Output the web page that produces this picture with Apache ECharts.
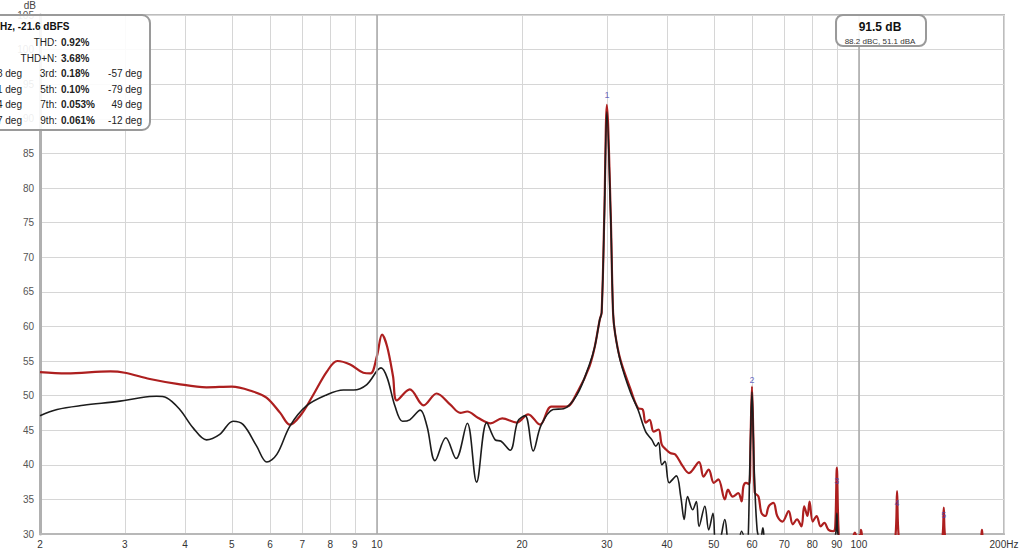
<!DOCTYPE html>
<html>
<head>
<meta charset="utf-8">
<script src="https://cdn.jsdelivr.net/npm/echarts@6/dist/echarts.min.js"></script>
<style>html,body{margin:0;padding:0;background:#fff;}#c{width:1024px;height:552px;}</style>
</head>
<body>
<div id="c"></div>
<script>
// ---- data (frequency in Hz, level in dB) ----
const redFreq = [2, 2.27, 2.8, 3.0, 3.38, 3.85, 4.43, 5.0, 5.53, 5.9, 6.3, 6.6, 6.97, 7.35, 7.88, 8.28, 8.8, 9.37, 9.7, 10.0, 10.25, 10.5, 10.8, 11.0, 11.7, 12.5, 13.3, 14.2, 14.9, 15.4, 16.2, 17.2, 18.2, 19.5, 20.6, 21.8, 23.0, 24.7, 26.1, 27.6, 28.3, 29.0, 29.26, 29.64, 30.0, 30.55, 30.9, 31.2, 32.0, 33.6, 34.8, 35.6, 36.1, 36.8, 37.5, 38.4, 39.0, 39.8, 40.6, 41.6, 43.1, 44.4, 46.6, 47.6, 48.8, 50.0, 51.1, 52.7, 53.5, 54.7, 56.2, 57.1, 57.6, 58.3, 59.2, 59.6, 60.0, 60.4, 60.8, 61.9, 62.8, 64.0, 65.0, 66.5, 67.7, 69.4, 71.5, 72.9, 74.4, 76.0, 77.0, 78.2, 79.0, 80.2, 81.7, 83.3, 84.8, 86.5, 88.5, 89.3, 90.0, 90.7, 91.5, 95, 98.1, 99.5, 101, 103, 115, 119, 120, 121, 125, 145, 149, 150, 151, 155, 176, 179.3, 180, 180.7, 185, 200];
const redDb   = [53.4, 53.2, 53.5, 53.3, 52.4, 51.7, 51.2, 51.3, 50.6, 49.7, 47.5, 45.8, 47.3, 49.9, 53.5, 55.0, 54.5, 53.3, 53.2, 55.7, 58.8, 57.1, 52.8, 49.3, 50.9, 48.6, 50.3, 48.7, 47.5, 47.7, 46.8, 46.0, 46.7, 46.1, 47.3, 45.8, 48.4, 48.4, 50.6, 54.2, 57.0, 61.0, 62.0, 76.4, 92.0, 76.4, 62.0, 59.0, 55.2, 50.9, 48.2, 48.0, 46.1, 46.5, 44.8, 45.1, 42.9, 42.2, 41.7, 41.5, 39.8, 38.8, 40.4, 38.3, 39.3, 37.4, 37.9, 35.0, 36.4, 35.4, 35.9, 34.7, 36.9, 37.4, 37.2, 44.0, 51.3, 44.0, 36.0, 35.4, 33.0, 32.6, 34.0, 34.5, 32.6, 31.8, 33.3, 31.4, 32.1, 31.1, 34.0, 32.6, 34.7, 31.8, 32.6, 31.1, 31.6, 30.6, 30.4, 31.0, 39.6, 30.8, 28.5, 27.5, 30.2, 29.0, 30.6, 27.5, 27.0, 29.5, 36.2, 29.5, 27.0, 27.0, 29.5, 33.8, 29.5, 27.0, 27.0, 29.5, 30.6, 29.5, 27.0, 27.0];

const blackFreq = [2, 2.17, 2.46, 2.93, 3.23, 3.49, 3.66, 3.9, 4.16, 4.43, 4.72, 5.03, 5.28, 5.63, 5.91, 6.2, 6.6, 7.14, 7.86, 8.52, 8.95, 9.53, 10.2, 10.5, 10.9, 11.3, 11.7, 12.3, 12.7, 13.2, 13.9, 14.6, 15.4, 16.1, 16.9, 17.6, 18.1, 18.9, 19.6, 20.3, 21.1, 21.9, 23.2, 24.4, 26.0, 27.6, 28.3, 29.0, 29.26, 29.64, 30.0, 30.55, 30.9, 31.2, 32.0, 33.6, 34.8, 36.1, 37.2, 37.9, 38.4, 39.0, 39.6, 40.4, 41.8, 42.7, 43.4, 44.1, 45.2, 46.0, 46.6, 47.9, 48.8, 49.8, 50.5, 51.5, 52.7, 53.8, 55.5, 57.1, 58.5, 59.4, 60.0, 60.6, 61.5, 62.5, 63.2, 64.5, 70, 85, 89.5, 90.0, 90.5, 95];
const blackDb   = [47.1, 48.0, 48.6, 49.2, 49.7, 49.9, 49.7, 48.0, 45.3, 43.6, 44.4, 46.3, 45.8, 42.7, 40.4, 41.5, 45.6, 48.5, 50.1, 50.8, 50.8, 51.6, 54.0, 52.6, 48.5, 46.3, 46.5, 47.9, 45.6, 40.6, 43.9, 40.9, 46.0, 37.5, 46.1, 43.6, 43.4, 42.1, 46.3, 47.1, 42.0, 45.7, 48.0, 48.1, 50.1, 54.5, 57.0, 61.0, 62.0, 76.0, 91.0, 76.0, 62.0, 59.0, 55.0, 50.4, 48.0, 44.8, 43.6, 42.7, 43.2, 40.0, 40.5, 37.4, 38.4, 35.4, 32.1, 35.4, 33.5, 34.7, 31.1, 34.0, 30.6, 33.0, 28.0, 29.0, 32.1, 28.0, 27.0, 30.4, 28.0, 40.0, 50.5, 40.0, 30.6, 29.0, 30.9, 27.0, 25.0, 25.0, 30.0, 33.0, 30.0, 25.0];

const peakLabels = ['1', '2', '3', '4', '5'];
const peakFreq   = [30, 60, 90, 120, 150];
const peakLabelDb = [93.5, 52.2, 37.7, 34.5, 32.8];

const xTickFreqs = [2, 3, 4, 5, 6, 7, 8, 9, 10, 20, 30, 40, 50, 60, 70, 80, 90, 100, 200];
const decadeFreqs = [10, 100];
const yMin = 30, yMax = 105, yStep = 5;

// ---- build ----
const lg = Math.log10;
const toPts = (fs, ds) => fs.map((f, i) => [lg(f), ds[i]]);
const tickVals = xTickFreqs.map(lg);

const chart = echarts.init(document.getElementById('c'), null, {renderer: 'svg'});
const FONT = '"Liberation Sans", Arial, sans-serif';

const option = {
  animation: false,
  backgroundColor: '#ffffff',
  grid: {left: 40, right: 20, top: 15, bottom: 18, show: true, borderColor: '#bdbdbd', borderWidth: 2, containLabel: false},
  xAxis: {
    type: 'value', min: lg(2), max: lg(200),
    axisLine: {show: true, onZero: false, lineStyle: {color: '#b8b8b8', width: 2}},
    axisTick: {show: false, customValues: tickVals},
    axisLabel: {
      customValues: tickVals, color: '#333', fontSize: 10, fontFamily: FONT, margin: 5,
      formatter: v => { const f = Math.round(Math.pow(10, v)); return f === 200 ? '200Hz' : String(f); }
    },
    splitLine: {show: true, lineStyle: {color: '#d6d6d6', width: 1}}
  },
  yAxis: {
    type: 'value', min: yMin, max: yMax, interval: yStep,
    name: 'dB', nameLocation: 'end', nameGap: 2,
    nameTextStyle: {color: '#444', fontSize: 10, fontFamily: FONT, align: 'right', padding: [0, 4, 0, 0]},
    axisLine: {show: true, lineStyle: {color: '#b0b0b0', width: 3}},
    axisTick: {show: false},
    axisLabel: {color: '#555', fontSize: 10, fontFamily: FONT, margin: 6},
    splitLine: {show: true, lineStyle: {color: '#d6d6d6', width: 1}}
  },
  series: [
    {
      type: 'line', data: [], silent: true,
      markLine: {
        silent: true, symbol: 'none', label: {show: false},
        lineStyle: {color: '#a8a8a8', width: 1.5, type: 'solid'},
        data: decadeFreqs.map(f => ({xAxis: lg(f)}))
      }
    },
    {
      name: 'red', type: 'line', data: toPts(redFreq, redDb), smooth: 0.35,
      showSymbol: false, clip: true, z: 3,
      lineStyle: {color: '#ad1f1f', width: 2.2}
    },
    {
      name: 'black', type: 'line', data: toPts(blackFreq, blackDb), smooth: 0.35,
      showSymbol: false, clip: true, z: 4,
      lineStyle: {color: '#1c1c1c', width: 1.6}
    },
    {
      type: 'scatter', symbolSize: 0, z: 5, silent: true,
      data: peakFreq.map((f, i) => ({value: [lg(f), peakLabelDb[i]], name: peakLabels[i]})),
      label: {show: true, position: 'inside', formatter: p => p.name, color: '#4545b5', fontSize: 9, fontFamily: FONT}
    }
  ],
  graphic: [
    {type: 'rect', z: 100, shape: {x: -12, y: 15, width: 162, height: 115, r: 8}, style: {fill: 'rgba(255,255,255,0.9)', stroke: '#9a9a9a', lineWidth: 2}},
    {type: 'text', z: 101, style: {text: 'Hz, -21.6 dBFS', x: 0, y: 26, font: 'bold 10px ' + FONT, fill: '#111', textVerticalAlign: 'middle'}},
    {type: 'text', z: 101, style: {text: 'THD:', x: 57, y: 42, font: '10px ' + FONT, fill: '#222', textAlign: 'right', textVerticalAlign: 'middle'}},
    {type: 'text', z: 101, style: {text: '0.92%', x: 61, y: 42, font: 'bold 10px ' + FONT, fill: '#222', textVerticalAlign: 'middle'}},
    {type: 'text', z: 101, style: {text: 'THD+N:', x: 57, y: 58, font: '10px ' + FONT, fill: '#222', textAlign: 'right', textVerticalAlign: 'middle'}},
    {type: 'text', z: 101, style: {text: '3.68%', x: 61, y: 58, font: 'bold 10px ' + FONT, fill: '#222', textVerticalAlign: 'middle'}},
    ...[['8 deg', '3rd:', '0.18%', '-57 deg', 73], ['1 deg', '5th:', '0.10%', '-79 deg', 89], ['4 deg', '7th:', '0.053%', '49 deg', 104], ['7 deg', '9th:', '0.061%', '-12 deg', 120]].flatMap(r => [
      {type: 'text', z: 101, style: {text: r[0], x: 22, y: r[4], font: '10px ' + FONT, fill: '#222', textAlign: 'right', textVerticalAlign: 'middle'}},
      {type: 'text', z: 101, style: {text: r[1], x: 57, y: r[4], font: '10px ' + FONT, fill: '#222', textAlign: 'right', textVerticalAlign: 'middle'}},
      {type: 'text', z: 101, style: {text: r[2], x: 61, y: r[4], font: 'bold 10px ' + FONT, fill: '#222', textVerticalAlign: 'middle'}},
      {type: 'text', z: 101, style: {text: r[3], x: 142, y: r[4], font: '10px ' + FONT, fill: '#222', textAlign: 'right', textVerticalAlign: 'middle'}}
    ]),
    {type: 'rect', z: 100, shape: {x: 836, y: 15, width: 90, height: 31, r: 7}, style: {fill: 'rgba(255,255,255,0.92)', stroke: '#9a9a9a', lineWidth: 2}},
    {type: 'text', z: 101, style: {text: '91.5 dB', x: 880, y: 27, font: 'bold 12px ' + FONT, fill: '#111', textAlign: 'center', textVerticalAlign: 'middle'}},
    {type: 'text', z: 101, style: {text: '88.2 dBC, 51.1 dBA', x: 880, y: 41, font: '8px ' + FONT, fill: '#333', textAlign: 'center', textVerticalAlign: 'middle'}}
  ]
};
chart.setOption(option);
</script>
</body>
</html>
